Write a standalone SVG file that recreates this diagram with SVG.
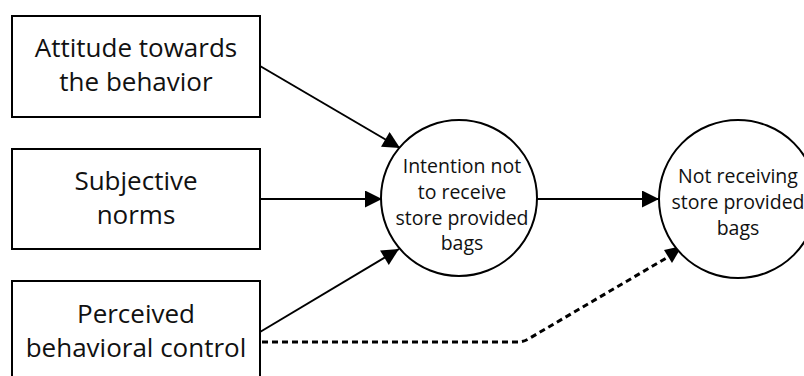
<svg xmlns="http://www.w3.org/2000/svg" width="804" height="376" viewBox="0 0 804 376">
<defs>
<style>
.box{fill:#fff;stroke:#000;stroke-width:2}
.node{fill:#fff;stroke:#000;stroke-width:2}
.bt{font-family:"Open Sans","Lato",sans-serif;font-size:26px;fill:#111;text-anchor:middle}
.ct{font-family:"Open Sans","Lato",sans-serif;font-size:19.5px;fill:#111;text-anchor:middle}
.edge{stroke:#000;stroke-width:2;fill:none}
.dash{stroke:#000;stroke-width:3;fill:none;stroke-dasharray:6 4}
</style>
<marker id="arrL" viewBox="0 0 10 10" refX="10" refY="5" markerWidth="18" markerHeight="17" markerUnits="userSpaceOnUse" orient="auto">
<path d="M0,0 L10,5 L0,10 z" fill="#000"/>
</marker>
</defs>
<rect width="804" height="376" fill="#fff"/>
<g id="connectors">
<line class="edge" x1="260" y1="66" x2="400" y2="148" marker-end="url(#arrL)"/>
<line class="edge" x1="260" y1="199" x2="382" y2="199" marker-end="url(#arrL)"/>
<line class="edge" x1="260" y1="332" x2="399" y2="249" marker-end="url(#arrL)"/>
<line class="edge" x1="537" y1="199" x2="659" y2="199" marker-end="url(#arrL)"/>
<path class="dash" d="M262,342 L518,342 Q524,342 530,338 L668,257"/>
<path d="M664,250 L682,246 L672,263 z" fill="#000"/>
</g>
<g id="n1">
<rect class="box" x="12" y="16" width="248" height="101"/>
<text class="bt" x="136" y="57">Attitude towards</text>
<text class="bt" x="136" y="91">the behavior</text>
</g>
<g id="n2">
<rect class="box" x="12" y="149" width="248" height="100"/>
<text class="bt" x="136" y="190">Subjective</text>
<text class="bt" x="136" y="224">norms</text>
</g>
<g id="n3">
<rect class="box" x="12" y="281" width="248" height="103"/>
<text class="bt" x="136" y="323">Perceived</text>
<text class="bt" x="136" y="357">behavioral control</text>
</g>
<g id="n4">
<circle class="node" cx="459" cy="198" r="78"/>
<text class="ct" x="462" y="173">Intention not</text>
<text class="ct" x="462" y="199">to receive</text>
<text class="ct" x="462" y="225">store provided</text>
<text class="ct" x="462" y="250">bags</text>
</g>
<g id="n5">
<circle class="node" cx="738" cy="199" r="79"/>
<text class="ct" x="738" y="183">Not receiving</text>
<text class="ct" x="738" y="209">store provided</text>
<text class="ct" x="738" y="235">bags</text>
</g>
</svg>
